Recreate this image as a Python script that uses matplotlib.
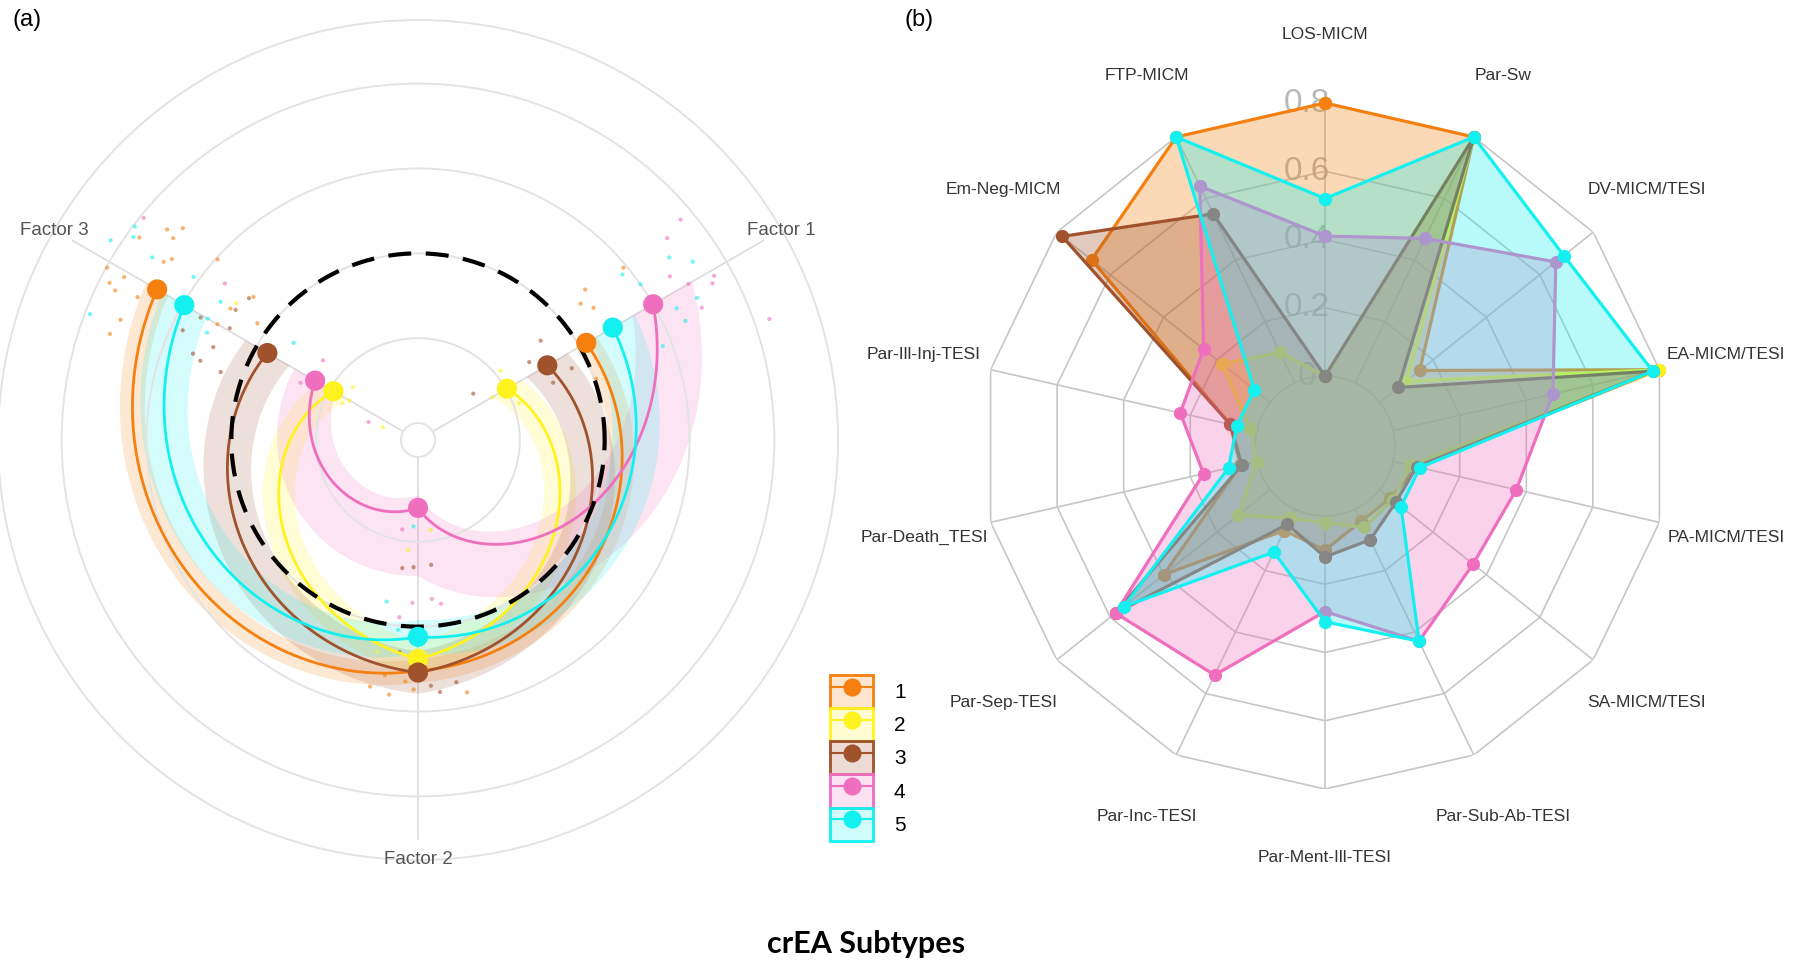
import numpy as np
import matplotlib.pyplot as plt
from matplotlib.path import Path
from matplotlib.patches import PathPatch, Patch
from matplotlib.lines import Line2D
from matplotlib.legend_handler import HandlerTuple
from matplotlib.transforms import offset_copy

plt.rcParams['font.family'] = ['Liberation Sans', 'DejaVu Sans']

# --- data ---
subtypes = ['1', '2', '3', '4', '5']
colors = ['#F5800F', '#FFF21E', '#A0522D', '#F06EBE', '#14F0F0']

# (a) factor axes (degrees) and cluster mean scores
factor_names = ['Factor 1', 'Factor 2', 'Factor 3']
factor_angles = [30, 270, 150]
mean_f3 = [1.35, -1.05, -0.15, -0.80, 0.98]
mean_f2 = [0.52, 0.38, 0.54, -1.40, 0.12]
mean_f1 = [0.09, -0.99, -0.44, 1.00, 0.45]
# shaded bands (lower / upper)
lo_f3 = [1.20, -1.25, -0.45, -1.08, 0.68]
hi_f3 = [1.50, -0.85, 0.15, -0.52, 1.28]
lo_f2 = [0.38, 0.18, 0.29, -1.55, -0.08]
hi_f2 = [0.66, 0.58, 0.79, -0.60, 0.32]
lo_f1 = [-0.05, -1.19, -0.72, 0.72, 0.15]
hi_f1 = [0.23, -0.79, -0.16, 1.53, 0.75]

# individual scores (cluster index, score, angular jitter in deg)
f3_cl = [0, 0, 0, 0, 0, 0, 0, 0, 0, 0, 0, 0, 0, 0, 0, 0, 0, 0,
         4, 4, 4, 4, 4, 4, 4, 4, 4, 4,
         2, 2, 2, 2, 2, 2, 2, 2, 2,
         3, 3, 3, 3, 3,
         1, 1, 1, 1, 1]
f3_z = [1.66, 1.54, 1.53, 1.46, 1.40, 1.86, 1.99, 1.76, 1.88, 1.78, 1.51, 1.58, 1.64, 0.98, 0.53, 0.50, 0.37, 0.14,
        2.12, 1.98, 1.92, 1.60, 1.94, 1.07, 0.64, 0.66, 0.59, -0.34,
        0.74, 0.45, 0.38, 0.53, 0.64, 0.26, 0.40, 0.44, 0.86,
        1.96, 0.73, -0.74, -1.58, -0.66,
        -1.21, -1.27, -1.21, -1.76, 0.48]
f3_dth = [-10, -9.5, -12, -5, -6.3, -6, 1, 1, 3, 3.7, 3, 8, 11, -12, 0, -5, -11, -6,
          -3, -7, -5.5, -4.5, 9, -6, -5, 0, 3, -8,
          0.6, 5.6, -0.7, 10, 9, 11, -10, -5.5, 5,
          -9, -9, -10, 10, 4,
          -9, 0, 4, 10, -7]

f1_cl = [3, 3, 3, 3, 3, 3, 3, 3,
         4, 4, 4, 4, 4, 4, 4, 4,
         0, 0, 0, 0, 0,
         2, 2, 2, 2, 2,
         1, 1, 1]
f1_z = [1.84, 1.58, 1.79, 1.73, 1.49, 2.18, 1.34, 1.48,
        1.46, 1.66, 1.49, 1.22, 1.25, 0.89, 1.00, 0.90,
        0.30, 0.39, 0.02, 0.96, 0.45,
        -0.34, -0.20, -0.47, -0.60, -1.35,
        -1.19, -0.93, -0.93]
f1_dth = [10, 9, -1, -2, -5, -11, 3, 0,
          6, 3, -3, -3, -6, -9, 5, 9,
          10, 7, -11, 10, 12,
          9, -5, -7, 5, 10,
          0, -10, 10]

f2_cl = [0, 0, 0, 0, 0, 0,
         2, 2, 2, 2, 2, 2, 2,
         1, 1, 1, 1,
         4, 4, 4,
         3, 3, 3, 3, 3]
f2_z = [0.76, 0.82, 0.74, 0.83, 0.65, 0.60,
        0.78, 0.69, -0.68, -0.70, -0.72, 0.31, 0.70,
        0.34, 0.30, -0.90, -1.13,
        -0.26, -1.18, 0.05,
        -0.32, -0.28, -0.25, -0.10, -1.13]
f2_dth = [-11, -6.5, -1, 11, -3, -8,
          5, 9, -7, -2, 6, -5, 3,
          -11, 8, -5, 8,
          -11, -3, -6,
          5, -2, 8, -6, -10]

# (b) radar chart
radar_labels = ['LOS-MICM', 'Par-Sw', 'DV-MICM/TESI', 'EA-MICM/TESI', 'PA-MICM/TESI',
                'SA-MICM/TESI', 'Par-Sub-Ab-TESI', 'Par-Ment-Ill-TESI', 'Par-Inc-TESI',
                'Par-Sep-TESI', 'Par-Death_TESI', 'Par-Ill-Inj-TESI', 'Em-Neg-MICM', 'FTP-MICM']
radar_1 = [0.80, 0.80, 0.15, 0.80, 0.07, 0.04, 0.04, 0.10, 0.07, 0.40, 0.05, 0.08, 0.67, 0.80]
radar_2 = [0.00, 0.80, 0.10, 0.80, 0.05, 0.05, 0.06, 0.02, 0.03, 0.12, 0.00, 0.02, 0.18, 0.10]
radar_3 = [0.00, 0.80, 0.07, 0.78, 0.07, 0.06, 0.10, 0.12, 0.05, 0.58, 0.045, 0.08, 0.78, 0.55]
radar_4 = [0.41, 0.47, 0.66, 0.48, 0.37, 0.35, 0.43, 0.28, 0.54, 0.58, 0.16, 0.23, 0.25, 0.64]
radar_5 = [0.52, 0.80, 0.69, 0.78, 0.08, 0.08, 0.43, 0.31, 0.14, 0.55, 0.085, 0.06, 0.06, 0.80]
radar_ticks = [0, 0.2, 0.4, 0.6, 0.8]
radar_ticklabels = ['0', '0.2', '0.4', '0.6', '0.8']

fig = plt.figure(figsize=(18, 9.65), dpi=100)
W, H = 1800, 965

# --- panel (a) ---
axL = fig.add_axes([(418 - 420) / W, (H - 440 - 420) / H, 840 / W, 840 / H], projection='polar')
axL.set_ylim(-2.2, 2.75)
axL.set_rgrids([-2, -1, 0, 1, 2], labels=[''] * 5)
axL.set_xticks([])
axL.yaxis.grid(True, color='#e3e3e3', lw=1.4)
axL.spines['polar'].set_color('#e3e3e3')
axL.spines['polar'].set_linewidth(1.4)

for name, ang in zip(factor_names, factor_angles):
    th = np.radians(ang)
    axL.plot([th, th], [-2.0, 2.5], color='#dcdcdc', lw=1.2, zorder=1)
    axL.text(th, 2.75, name, ha='center', va='center', fontsize=13.5, color='#555555', zorder=6)

t3, t2, t1 = np.radians([150, 270, 390])
for k in range(5):
    band = Path([(t3, hi_f3[k]), (t2, hi_f2[k]), (t1, hi_f1[k]),
                 (t1, lo_f1[k]), (t2, lo_f2[k]), (t3, lo_f3[k]), (t3, hi_f3[k])],
                [Path.MOVETO] + [Path.LINETO] * 5 + [Path.CLOSEPOLY], _interpolation_steps=80)
    axL.add_patch(PathPatch(band, facecolor=colors[k], edgecolor='none', alpha=0.18, zorder=1.5))

for cl, z, dth, ang in [(f3_cl, f3_z, f3_dth, 150), (f1_cl, f1_z, f1_dth, 30), (f2_cl, f2_z, f2_dth, 270)]:
    axL.scatter(np.radians(ang + np.array(dth)), z, s=9, c=[colors[c] for c in cl],
                alpha=0.6, edgecolors='none', zorder=2)

for k in range(5):
    curve = Path([(t3, mean_f3[k]), (t2, mean_f2[k]), (t1, mean_f1[k])],
                 [Path.MOVETO, Path.LINETO, Path.LINETO], _interpolation_steps=80)
    axL.add_patch(PathPatch(curve, fill=False, edgecolor=colors[k], lw=2, zorder=3))

circ = np.linspace(0, 2 * np.pi, 300)
axL.plot(circ, np.zeros_like(circ), color='black', lw=3, ls=(0, (5.5, 3.5)), zorder=4)

for k in range(5):
    axL.scatter([t3, t2, t1], [mean_f3[k], mean_f2[k], mean_f1[k]], s=210,
                color=colors[k], edgecolors='none', zorder=5)

# --- panel (b) ---
R = 343
axR = fig.add_axes([(1325 - R) / W, (H - 446 - R) / H, 2 * R / W, 2 * R / H], projection='polar')
axR.set_theta_offset(np.pi / 2)
axR.set_theta_direction(-1)
axR.set_ylim(-0.205, 0.8)
axR.set_xticks([])
axR.set_yticks([])
axR.grid(False)
axR.spines['polar'].set_visible(False)

n = len(radar_labels)
ang = np.arange(n) * 2 * np.pi / n
angc = np.append(ang, ang[0])
for lev in radar_ticks[1:]:
    axR.plot(angc, [lev] * (n + 1), color='#c6c6c6', lw=1.2, zorder=1)
axR.plot(circ, np.zeros_like(circ), color='#c6c6c6', lw=1.2, zorder=1)
for a in ang:
    axR.plot([a, a], [0, 0.8], color='#c6c6c6', lw=1.2, zorder=1)

tick_tr = offset_copy(axR.transData, fig=fig, x=-18, y=0, units='dots')
for v, lab in zip(radar_ticks, radar_ticklabels):
    axR.text(0, v, lab, transform=tick_tr, ha='center', va='center', fontsize=24,
             color='#a8a8a8', alpha=0.8, zorder=1.5)

for a, lab in zip(ang, radar_labels):
    axR.text(a, 1.0, lab, ha='center', va='center', fontsize=12.5, color='#333333')

for k, vals in enumerate([radar_1, radar_2, radar_3, radar_4, radar_5]):
    vc = vals + vals[:1]
    axR.fill(angc, vc, color=colors[k], alpha=0.3, lw=0, zorder=2 + 0.1 * k)
    axR.plot(angc, vc, color=colors[k], lw=2.3, marker='o', ms=8.5,
             zorder=2.05 + 0.1 * k, clip_on=False)

# --- legend and labels ---
handles = [(Patch(facecolor=c, alpha=0.2, edgecolor='none'),
            Patch(facecolor='none', edgecolor=c, lw=2),
            Line2D([0], [0], color=c, lw=1.5, marker='o', ms=12)) for c in colors]
fig.legend(handles, subtypes, loc='upper left', bbox_to_anchor=(830 / W, 1 - 675 / H),
           frameon=False, fontsize=15, handlelength=2.07, handleheight=2.07,
           labelspacing=0.0, handletextpad=1.0, borderpad=0, borderaxespad=0,
           handler_map={tuple: HandlerTuple(ndivide=1)})

fig.text(866 / W, 1 - 944 / H, 'crEA Subtypes', ha='center', va='center', fontsize=22,
         fontweight='bold', family=['Lato', 'DejaVu Sans'])
fig.text(27 / W, 1 - 20 / H, '(a)', ha='center', va='center', fontsize=17)
fig.text(919 / W, 1 - 20 / H, '(b)', ha='center', va='center', fontsize=17)

fig.savefig('out.png', dpi=100)
